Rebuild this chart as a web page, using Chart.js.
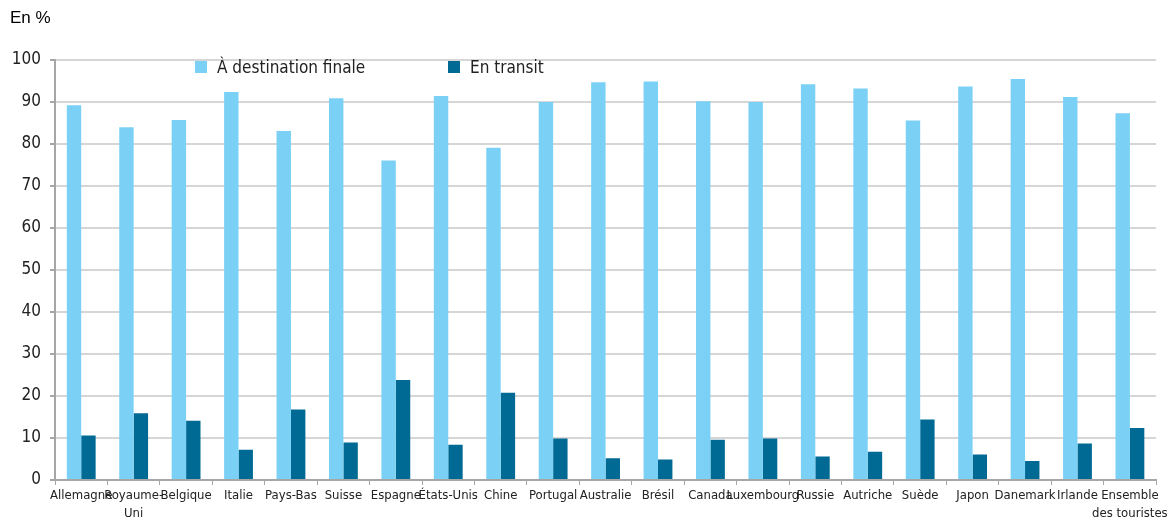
<!DOCTYPE html>
<html lang="fr">
<head>
<meta charset="utf-8">
<script src="https://cdn.jsdelivr.net/npm/chart.js@4.4.0/dist/chart.umd.min.js"></script>
<style>
  body { margin: 0; background: #fff; }
  #wrap { position: relative; width: 1170px; height: 521px; }
  #unit { position: absolute; left: 10px; top: 8px; font: 17px "Liberation Sans", Arial, sans-serif; color: #000; }
  .leg { position: absolute; top: 57px; font: 17px "DejaVu Sans Condensed", sans-serif; color: #222; display: flex; align-items: center; }
  .leg span.box { display: inline-block; width: 12px; height: 12px; margin-right: 10px; }
</style>
</head>
<body>
<div id="wrap">
  <canvas id="chart" width="1170" height="521"></canvas>
  <div id="unit">En %</div>
  <div class="leg" style="left:195px"><span class="box" style="background:#7bd1f5"></span>À destination finale</div>
  <div class="leg" style="left:448px"><span class="box" style="background:#006a95"></span>En transit</div>
</div>
<script>
const categories = ['Allemagne', ['Royaume-', 'Uni'], 'Belgique', 'Italie', 'Pays-Bas', 'Suisse', 'Espagne',
  'États-Unis', 'Chine', 'Portugal', 'Australie', 'Brésil', 'Canada', 'Luxembourg', 'Russie',
  'Autriche', 'Suède', 'Japon', 'Danemark', 'Irlande', ['Ensemble', 'des touristes']];
const destinationFinale = [89.2, 84.0, 85.7, 92.4, 83.1, 90.9, 76.1, 91.4, 79.1, 90.0, 94.7,
  94.9, 90.2, 90.0, 94.2, 93.2, 85.6, 93.7, 95.5, 91.2, 87.3];
const enTransit = [10.6, 15.9, 14.1, 7.2, 16.8, 8.9, 23.8, 8.4, 20.8, 9.9, 5.2,
  4.9, 9.6, 9.9, 5.6, 6.7, 14.4, 6.1, 4.5, 8.7, 12.4];
const yTicks = [0, 10, 20, 30, 40, 50, 60, 70, 80, 90, 100];

const axisColor = '#a6a6a6';
const gridColor = '#d6d6d6';
const narrow = '"DejaVu Sans Condensed", sans-serif';

new Chart(document.getElementById('chart'), {
  type: 'bar',
  data: {
    labels: categories,
    datasets: [
      { label: 'À destination finale', data: destinationFinale, backgroundColor: '#7bd1f5' },
      { label: 'En transit', data: enTransit, backgroundColor: '#006a95' }
    ]
  },
  options: {
    responsive: false,
    animation: false,
    categoryPercentage: 0.55,
    barPercentage: 1.0,
    layout: { padding: { top: 60, right: 12, left: 0, bottom: 0 } },
    plugins: {
      legend: { display: false },
      tooltip: { enabled: false }
    },
    scales: {
      x: {
        offset: true,
        border: { color: axisColor, width: 2 },
        grid: { display: true, drawOnChartArea: false, offset: true, tickLength: 5, color: axisColor, tickColor: axisColor },
        ticks: {
          autoSkip: false, maxRotation: 0, minRotation: 0, padding: 2, color: '#222',
          font: { family: narrow, size: 13, lineHeight: 1.35 }
        },
        afterFit: s => { s.height = 41; }
      },
      y: {
        min: 0, max: 100,
        border: { color: axisColor, width: 2 },
        grid: { color: gridColor, lineWidth: 2, tickLength: 5, tickColor: axisColor },
        afterBuildTicks: s => { s.ticks = yTicks.map(v => ({ value: v })); },
        ticks: {
          padding: 9, color: '#222',
          font: { family: narrow, size: 17 }
        },
        afterFit: s => { s.width = 55; }
      }
    }
  }
});
</script>
</body>
</html>
